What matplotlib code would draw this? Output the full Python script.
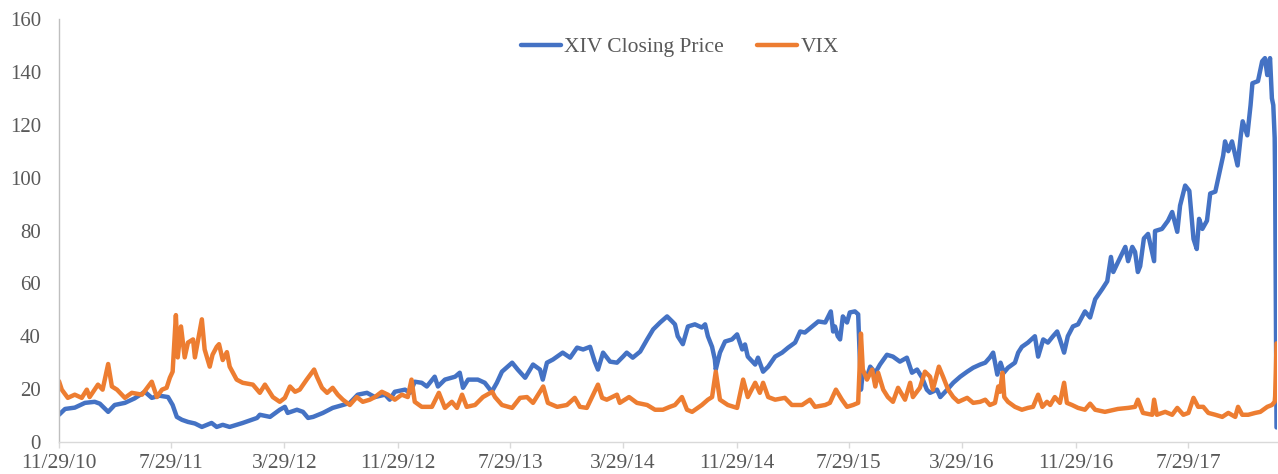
import matplotlib
matplotlib.use('Agg')
import matplotlib.pyplot as plt
import pandas as pd

# ---------------- data ----------------
xiv_dates = [
    '2010-11-29', '2010-12-12', '2011-01-02', '2011-01-24', '2011-02-14', '2011-02-25', '2011-03-15',
    '2011-03-29', '2011-04-20', '2011-05-11', '2011-06-02', '2011-06-17', '2011-07-04', '2011-07-22',
    '2011-08-01', '2011-08-10', '2011-08-21', '2011-09-03', '2011-09-18', '2011-10-03', '2011-10-24',
    '2011-11-04', '2011-11-17', '2011-12-02', '2011-12-30', '2012-01-30', '2012-02-05', '2012-02-27',
    '2012-03-19', '2012-03-30', '2012-04-05', '2012-04-25', '2012-05-08', '2012-05-19', '2012-05-30',
    '2012-06-20', '2012-07-11', '2012-08-02', '2012-08-17', '2012-09-03', '2012-09-23', '2012-10-10',
    '2012-11-01', '2012-11-11', '2012-11-22', '2012-12-14', '2012-12-25', '2013-01-04', '2013-01-19',
    '2013-01-30', '2013-02-16', '2013-02-23', '2013-03-10', '2013-04-01', '2013-04-11', '2013-04-18',
    '2013-04-29', '2013-05-20', '2013-06-04', '2013-06-19', '2013-06-30', '2013-07-11', '2013-08-02',
    '2013-08-14', '2013-08-30', '2013-09-16', '2013-10-01', '2013-10-07', '2013-10-16', '2013-10-29',
    '2013-11-19', '2013-12-05', '2013-12-20', '2014-01-02', '2014-01-17', '2014-01-27', '2014-02-03',
    '2014-02-14', '2014-03-01', '2014-03-16', '2014-03-29', '2014-04-06', '2014-04-19', '2014-05-05',
    '2014-05-20', '2014-06-02', '2014-06-17', '2014-07-02', '2014-07-13', '2014-07-19', '2014-07-25',
    '2014-08-05', '2014-08-16', '2014-08-31', '2014-09-15', '2014-09-22', '2014-09-28', '2014-10-07',
    '2014-10-13', '2014-10-15', '2014-10-24', '2014-11-04', '2014-11-19', '2014-11-30', '2014-12-11',
    '2014-12-17', '2014-12-23', '2015-01-08', '2015-01-14', '2015-01-25', '2015-02-05', '2015-02-20',
    '2015-03-07', '2015-03-20', '2015-04-04', '2015-04-15', '2015-04-25', '2015-05-11', '2015-05-24',
    '2015-06-08', '2015-06-20', '2015-06-25', '2015-06-29', '2015-07-05', '2015-07-10', '2015-07-16',
    '2015-07-25', '2015-07-31', '2015-08-11', '2015-08-18', '2015-08-24', '2015-08-28', '2015-09-06',
    '2015-09-13', '2015-09-24', '2015-10-04', '2015-10-19', '2015-11-01', '2015-11-16', '2015-12-01',
    '2015-12-12', '2015-12-23', '2016-01-03', '2016-01-13', '2016-01-20', '2016-02-04', '2016-02-11',
    '2016-02-26', '2016-03-10', '2016-03-25', '2016-04-09', '2016-04-22', '2016-05-07', '2016-05-18',
    '2016-05-28', '2016-06-04', '2016-06-13', '2016-06-20', '2016-06-27', '2016-07-06', '2016-07-21',
    '2016-07-28', '2016-08-05', '2016-08-18', '2016-09-02', '2016-09-09', '2016-09-20', '2016-09-30',
    '2016-10-11', '2016-10-20', '2016-10-26', '2016-11-04', '2016-11-12', '2016-11-23', '2016-12-04',
    '2016-12-19', '2016-12-30', '2017-01-10', '2017-01-25', '2017-02-05', '2017-02-13', '2017-02-18',
    '2017-02-28', '2017-03-16', '2017-03-22', '2017-03-31', '2017-04-06', '2017-04-12', '2017-04-17',
    '2017-04-25', '2017-05-04', '2017-05-17', '2017-05-19', '2017-06-03', '2017-06-16', '2017-06-25',
    '2017-07-06', '2017-07-12', '2017-07-23', '2017-08-01', '2017-08-10', '2017-08-17', '2017-08-22',
    '2017-08-29', '2017-09-08', '2017-09-15', '2017-09-26', '2017-10-06', '2017-10-13', '2017-10-17',
    '2017-10-24', '2017-11-01', '2017-11-13', '2017-11-20', '2017-11-24', '2017-12-04', '2017-12-11',
    '2017-12-15', '2017-12-27', '2018-01-05', '2018-01-11', '2018-01-16', '2018-01-22', '2018-01-26',
    '2018-01-29', '2018-02-01', '2018-02-02', '2018-02-05',
]
xiv_close = [
    10.3, 12.5, 13.0, 14.8, 15.2, 14.5, 11.4,
    14.0, 14.8, 16.5, 19.0, 16.7, 17.5, 17.0,
    14.0, 9.5, 8.4, 7.6, 7.0, 5.7, 7.2,
    5.7, 6.5, 5.7, 7.2, 9.1, 10.3, 9.5,
    12.2, 13.3, 11.0, 12.2, 11.4, 9.1, 9.5,
    11.0, 12.9, 14.0, 14.8, 17.9, 18.6, 17.0,
    17.9, 16.0, 19.0, 19.8, 18.6, 22.8, 22.4,
    21.0, 24.7, 21.0, 23.6, 24.7, 26.2, 20.5,
    23.6, 23.6, 22.4, 19.0, 22.4, 26.6, 30.0,
    27.4, 24.3, 29.3, 27.4, 23.6, 30.0, 31.2,
    33.8, 31.9, 35.7, 35.0, 36.0, 30.4, 27.4,
    33.8, 30.4, 30.0, 32.3, 33.8, 31.9, 34.2,
    38.8, 42.6, 45.2, 47.5, 45.6, 44.5, 40.0,
    37.0, 43.7, 44.5, 43.3, 44.5, 40.0, 36.0,
    31.2, 27.4, 33.8, 38.0, 38.8, 40.7, 35.0,
    36.9, 32.3, 29.3, 31.9, 26.6, 28.5, 32.3,
    33.8, 35.7, 37.6, 41.8, 41.4, 43.7, 45.6,
    45.2, 49.4, 41.8, 43.7, 40.0, 38.8, 47.5,
    45.2, 49.0, 49.4, 48.3, 19.8, 26.2, 24.7,
    28.5, 26.2, 29.3, 33.0, 32.3, 30.4, 31.9,
    26.2, 27.4, 24.3, 19.8, 18.6, 19.8, 17.0,
    19.8, 22.4, 24.7, 26.6, 28.1, 29.3, 30.0,
    32.0, 33.8, 25.5, 30.0, 26.2, 28.1, 30.0,
    33.8, 36.0, 37.6, 40.0, 32.3, 38.8, 37.6,
    40.0, 41.8, 38.8, 33.8, 40.0, 43.7, 44.5,
    49.4, 47.1, 54.0, 57.8, 60.8, 70.0, 64.3,
    68.0, 73.8, 68.4, 73.8, 71.9, 64.3, 66.5,
    77.0, 78.7, 68.4, 79.8, 80.6, 83.7, 87.0,
    79.5, 89.4, 97.0, 95.0, 76.8, 73.0, 84.4,
    80.6, 83.7, 94.0, 94.7, 102.7, 108.4, 113.7,
    110.0, 113.7, 104.6, 116.0, 121.3, 116.0, 127.4,
    135.7, 136.5, 144.0, 145.2, 138.8, 145.2, 130.0,
    127.4, 115.0, 99.0, 5.5,
]

vix_dates = [
    '2010-11-29', '2010-12-05', '2010-12-18', '2011-01-02', '2011-01-17', '2011-01-28', '2011-02-03',
    '2011-02-21', '2011-03-03', '2011-03-15', '2011-03-23', '2011-04-03', '2011-04-20', '2011-05-05',
    '2011-05-27', '2011-06-17', '2011-06-28', '2011-07-09', '2011-07-19', '2011-07-26', '2011-08-01',
    '2011-08-08', '2011-08-12', '2011-08-19', '2011-08-27', '2011-09-03', '2011-09-14', '2011-09-18',
    '2011-10-03', '2011-10-09', '2011-10-20', '2011-10-26', '2011-11-04', '2011-11-09', '2011-11-17',
    '2011-11-26', '2011-12-02', '2011-12-17', '2011-12-30', '2012-01-21', '2012-02-05', '2012-02-16',
    '2012-03-04', '2012-03-19', '2012-03-30', '2012-04-10', '2012-04-21', '2012-05-01', '2012-05-16',
    '2012-06-01', '2012-06-07', '2012-06-18', '2012-06-29', '2012-07-11', '2012-07-22', '2012-08-02',
    '2012-08-17', '2012-09-01', '2012-09-14', '2012-09-29', '2012-10-10', '2012-10-25', '2012-11-07',
    '2012-11-22', '2012-12-07', '2012-12-20', '2012-12-28', '2013-01-04', '2013-01-19', '2013-02-10',
    '2013-02-25', '2013-03-10', '2013-03-25', '2013-04-05', '2013-04-16', '2013-04-26', '2013-05-14',
    '2013-05-31', '2013-06-20', '2013-06-26', '2013-07-11', '2013-08-02', '2013-08-19', '2013-09-03',
    '2013-09-16', '2013-10-08', '2013-10-18', '2013-11-07', '2013-11-28', '2013-12-15', '2013-12-26',
    '2014-01-10', '2014-02-03', '2014-02-12', '2014-02-22', '2014-03-16', '2014-03-22', '2014-04-11',
    '2014-04-28', '2014-05-20', '2014-06-06', '2014-06-23', '2014-07-08', '2014-07-19', '2014-08-03',
    '2014-08-14', '2014-08-25', '2014-09-15', '2014-09-28', '2014-10-07', '2014-10-15', '2014-10-24',
    '2014-11-10', '2014-11-30', '2014-12-13', '2014-12-23', '2015-01-08', '2015-01-18', '2015-01-25',
    '2015-02-05', '2015-02-20', '2015-03-13', '2015-03-28', '2015-04-19', '2015-05-06', '2015-05-17',
    '2015-06-08', '2015-06-18', '2015-07-01', '2015-07-14', '2015-07-25', '2015-08-07', '2015-08-18',
    '2015-08-24', '2015-08-28', '2015-09-06', '2015-09-17', '2015-09-24', '2015-09-30', '2015-10-11',
    '2015-10-21', '2015-11-01', '2015-11-12', '2015-11-27', '2015-12-08', '2015-12-14', '2015-12-29',
    '2016-01-09', '2016-01-20', '2016-01-26', '2016-02-08', '2016-02-17', '2016-02-28', '2016-03-10',
    '2016-03-21', '2016-04-09', '2016-04-22', '2016-05-07', '2016-05-18', '2016-05-28', '2016-06-08',
    '2016-06-15', '2016-06-19', '2016-06-24', '2016-06-28', '2016-07-06', '2016-07-21', '2016-08-05',
    '2016-08-18', '2016-08-29', '2016-09-09', '2016-09-18', '2016-09-28', '2016-10-05', '2016-10-15',
    '2016-10-26', '2016-11-04', '2016-11-10', '2016-11-21', '2016-12-04', '2016-12-19', '2016-12-30',
    '2017-01-10', '2017-01-31', '2017-02-28', '2017-03-22', '2017-04-06', '2017-04-12', '2017-04-23',
    '2017-05-13', '2017-05-17', '2017-05-23', '2017-06-10', '2017-06-25', '2017-07-06', '2017-07-19',
    '2017-07-30', '2017-08-10', '2017-08-20', '2017-08-31', '2017-09-11', '2017-09-26', '2017-10-11',
    '2017-10-24', '2017-11-08', '2017-11-14', '2017-11-23', '2017-12-06', '2017-12-21', '2018-01-01',
    '2018-01-16', '2018-01-26', '2018-02-01', '2018-02-02', '2018-02-05',
]
vix_close = [
    23.0, 19.8, 16.7, 17.9, 16.7, 19.8, 17.0,
    21.7, 19.8, 29.5, 21.0, 19.8, 16.7, 18.6,
    17.9, 22.8, 17.0, 19.8, 20.5, 24.3, 26.6,
    48.0, 32.0, 43.7, 32.0, 37.6, 38.8, 32.0,
    46.4, 35.0, 28.5, 33.0, 36.0, 37.0, 31.0,
    34.0, 28.5, 23.6, 22.4, 21.7, 18.6, 21.7,
    17.0, 15.2, 16.7, 21.0, 19.0, 19.8, 23.6,
    27.4, 24.7, 20.5, 18.6, 20.5, 17.9, 16.0,
    14.0, 17.0, 15.2, 16.0, 17.0, 19.0, 17.9,
    16.0, 17.9, 17.0, 23.6, 15.2, 13.3, 13.3,
    18.6, 12.9, 15.2, 12.9, 17.9, 13.3, 14.0,
    17.0, 19.0, 17.0, 14.0, 12.9, 16.7, 17.0,
    14.8, 21.0, 14.8, 13.3, 14.0, 16.7, 13.3,
    12.9, 21.7, 16.7, 16.0, 17.9, 14.8, 17.0,
    14.8, 14.0, 12.2, 12.2, 13.3, 14.0, 17.0,
    12.2, 11.4, 14.0, 16.0, 17.0, 26.6, 16.0,
    14.0, 12.9, 23.6, 17.0, 22.4, 18.6, 22.4,
    17.0, 16.0, 16.7, 14.0, 14.0, 16.0, 13.3,
    14.0, 14.8, 19.8, 16.0, 13.3, 14.0, 14.8,
    41.0, 27.4, 23.6, 27.4, 21.0, 26.2, 19.8,
    17.0, 15.2, 20.5, 16.0, 22.4, 17.0, 20.5,
    26.6, 24.7, 19.8, 28.5, 24.7, 19.8, 17.0,
    15.2, 16.7, 14.8, 15.2, 16.0, 14.0, 14.8,
    21.0, 19.0, 26.2, 17.0, 15.2, 13.3, 12.2,
    12.9, 13.3, 17.9, 13.3, 15.2, 14.0, 17.0,
    14.8, 22.4, 14.8, 14.0, 12.9, 12.2, 14.5,
    12.2, 11.4, 12.5, 12.9, 13.3, 16.0, 11.0,
    10.3, 16.0, 10.3, 11.4, 10.3, 12.9, 10.3,
    11.0, 16.7, 13.3, 13.3, 11.0, 10.3, 9.5,
    11.0, 9.5, 13.3, 10.3, 10.3, 11.0, 11.4,
    13.3, 14.0, 15.2, 17.3, 37.3,
]

x_tick_labels = ['11/29/10', '7/29/11', '3/29/12', '11/29/12', '7/29/13', '3/29/14',
                 '11/29/14', '7/29/15', '3/29/16', '11/29/16', '7/29/17']
y_ticks = [0, 20, 40, 60, 80, 100, 120, 140, 160]
series_names = ['XIV Closing Price', 'VIX']
series_colors = ['#4472C4', '#ED7D31']
x_start, x_end = '2010-11-29', '2018-02-06'

# ---------------- plot ----------------
plt.rcParams['font.family'] = ['Liberation Serif', 'DejaVu Serif']
text_color = '#595959'

W, H = 1278, 474
fig = plt.figure(figsize=(W / 100, H / 100), dpi=100)
ax = fig.add_axes([59 / W, 32 / H, 1218 / W, 423 / H])

ax.plot(pd.to_datetime(xiv_dates), xiv_close, color=series_colors[0], lw=3.2,
        solid_joinstyle='round', solid_capstyle='round', label=series_names[0])
ax.plot(pd.to_datetime(vix_dates), vix_close, color=series_colors[1], lw=3.2,
        solid_joinstyle='round', solid_capstyle='round', label=series_names[1])

ax.set_xlim(pd.Timestamp(x_start), pd.Timestamp(x_end))
ax.set_ylim(y_ticks[0], y_ticks[-1])
ax.set_yticks(y_ticks)
ax.set_yticklabels([str(v) for v in y_ticks])
ax.set_xticks(pd.to_datetime(x_tick_labels, format='%m/%d/%y'))
ax.set_xticklabels(x_tick_labels)

for s in ['top', 'right']:
    ax.spines[s].set_visible(False)
ax.spines['left'].set_color('#BFBFBF')
ax.spines['bottom'].set_color('#D9D9D9')
ax.spines['left'].set_linewidth(1.0)
ax.spines['bottom'].set_linewidth(1.0)

ax.tick_params(axis='y', length=0, pad=13, labelsize=15, labelcolor=text_color)
ax.tick_params(axis='x', length=4, width=1.0, color='#D9D9D9', pad=5,
               labelsize=15.5, labelcolor=text_color)

leg = ax.legend(loc='center', bbox_to_anchor=(680 / W, 1 - 47 / H),
                bbox_transform=fig.transFigure, ncol=2, frameon=False,
                handlelength=1.85, handletextpad=0.15, columnspacing=1.55,
                fontsize=15.5)
for line in leg.get_lines():
    line.set_linewidth(3.2)
for t in leg.get_texts():
    t.set_color(text_color)

fig.savefig('out.png', dpi=100)
